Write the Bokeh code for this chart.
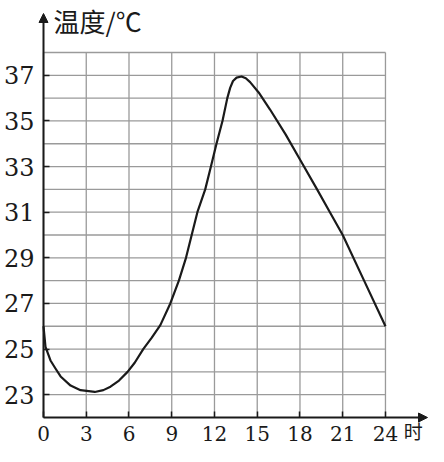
from bokeh.plotting import figure
from bokeh.models import FixedTicker, Arrow, NormalHead, Label, Range1d
from bokeh.embed import file_html
from bokeh.resources import INLINE

# data
hours = [0, 0.14, 0.49, 0.84, 1.2, 1.9, 2.6, 3.6, 4.2, 4.7, 5.3, 5.9, 6.4, 7.0,
         7.6, 8.2, 8.9, 9.5, 10.0, 10.4, 10.8, 11.35, 11.75, 12.14, 12.56, 12.9,
         13.1, 13.3, 13.55, 13.9, 14.2, 14.5, 15.1, 15.9, 17.0, 18.1, 19.2, 20.1,
         21.0, 22.5, 24.0]
temps = [26.0, 25.1, 24.5, 24.15, 23.8, 23.4, 23.2, 23.12, 23.2, 23.35, 23.62,
         24.0, 24.4, 25.0, 25.5, 26.05, 27.0, 28.0, 29.0, 30.0, 31.0, 32.0, 33.0,
         34.0, 35.0, 36.0, 36.45, 36.75, 36.9, 36.95, 36.87, 36.7, 36.25, 35.5,
         34.4, 33.2, 32.0, 31.0, 30.0, 28.0, 26.0]
x_ticks = [0, 3, 6, 9, 12, 15, 18, 21, 24]
y_ticks = [23, 25, 27, 29, 31, 33, 35, 37]
grid_y = [23, 24, 25, 26, 27, 28, 29, 30, 31, 32, 33, 34, 35, 36, 37, 38]
x_title = "时"
y_title = "温度/℃"

x_min, x_max = 0, 24
y_min, y_max = 22, 38
ink = "#1a1a1a"

p = figure(width=428, height=446, output_backend="svg", toolbar_location=None,
           x_range=Range1d(-3.018, 27.02), y_range=Range1d(20.729, 40.28),
           min_border=0)
p.outline_line_color = None
p.grid.visible = False
p.background_fill_color = "white"
p.border_fill_color = "white"

# grid
p.segment(x0=x_ticks, y0=[y_min] * len(x_ticks), x1=x_ticks, y1=[y_max] * len(x_ticks),
          line_color="#9a9a9a", line_width=1.3)
p.segment(x0=[x_min] * len(grid_y), y0=grid_y, x1=[x_max] * len(grid_y), y1=grid_y,
          line_color="#9a9a9a", line_width=1.3)

# curve
p.line(hours, temps, line_color=ink, line_width=2.2, line_join="round")

# axes placed at the data origin
p.xaxis.fixed_location = y_min
p.yaxis.fixed_location = x_min
for ax in (p.xaxis[0], p.yaxis[0]):
    ax.axis_line_color = None
    ax.major_tick_in = 6
    ax.major_tick_out = 0
    ax.minor_tick_line_color = None
    ax.major_tick_line_color = ink
    ax.major_tick_line_width = 1.5
    ax.major_label_text_color = ink
    ax.major_label_text_font = "DejaVu Serif"

p.xaxis.ticker = FixedTicker(ticks=x_ticks)
p.yaxis.ticker = FixedTicker(ticks=y_ticks)
p.xaxis.major_label_text_font_size = "20px"
p.yaxis.major_label_text_font_size = "24px"
p.xaxis.major_label_standoff = 8
p.yaxis.major_label_standoff = 9

# arrow axes
p.add_layout(Arrow(end=NormalHead(size=9, fill_color=ink, line_color=ink),
                   x_start=x_min, y_start=y_min, x_end=26.95, y_end=y_min,
                   line_color=ink, line_width=2))
p.add_layout(Arrow(end=NormalHead(size=9, fill_color=ink, line_color=ink),
                   x_start=x_min, y_start=y_min, x_end=x_min, y_end=39.71,
                   line_color=ink, line_width=2))

p.add_layout(Label(x=0.7, y=39.4, text=y_title, text_font="Noto Sans CJK SC",
                   text_font_size="26px", text_baseline="middle", text_align="left",
                   text_color=ink))
p.add_layout(Label(x=25.95, y=21.45, text=x_title, text_font="Noto Sans CJK SC",
                   text_font_size="19px", text_baseline="middle", text_align="center",
                   text_color=ink))

open("out.html", "w").write(file_html(p, INLINE))
